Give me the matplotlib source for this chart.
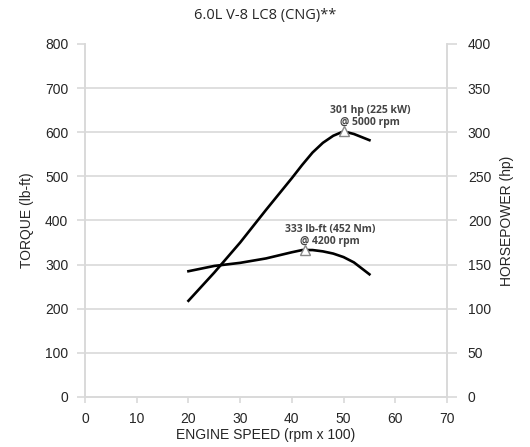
import matplotlib.pyplot as plt

# engine speed (rpm x 100)
rpm_tq = [20, 25, 30, 35, 40, 42, 44, 46, 48, 50, 52, 54, 55]
torque = [285, 297, 304, 314, 328, 333, 333, 330, 325, 317, 305, 287, 278]

rpm_hp = [20, 25, 30, 35, 40, 42, 44, 46, 48, 50, 52, 55]
hp = [109, 141, 175, 212, 248, 263, 277, 288, 296, 301, 298, 291]

peak_hp = (50, 301)
peak_tq = (42.5, 334)
title = '6.0L V-8 LC8 (CNG)**'
hp_note = '301 hp (225 kW)\n@ 5000 rpm'
tq_note = '333 lb-ft (452 Nm)\n@ 4200 rpm'

grid_c = '#d9d9d9'
txt_c = '#262626'

fig = plt.figure(figsize=(5.3, 4.47), dpi=100)
ax = fig.add_axes([0.1604, 0.1119, 0.6830, 0.7897])
ax2 = ax.twinx()

ax.set_xlim(0, 70)
ax.set_ylim(0, 800)
ax2.set_ylim(0, 400)
ax.set_xticks(range(0, 71, 10))
ax.set_yticks(range(0, 801, 100))
ax2.set_yticks(range(0, 401, 50))

for y in range(100, 800, 100):
    ax.axhline(y, color=grid_c, lw=1.2, zorder=0)

for a in (ax, ax2):
    a.spines['top'].set_visible(False)
    for s in ('left', 'right', 'bottom'):
        a.spines[s].set_color(grid_c)
        a.spines[s].set_linewidth(1.2)
    a.tick_params(colors=grid_c, labelcolor=txt_c, labelsize=10, width=1.2)
ax.tick_params(axis='y', length=6, pad=6)
ax.tick_params(axis='x', length=4, pad=7)
ax2.tick_params(axis='y', length=7, pad=8)

for lab in ax.get_xticklabels() + ax.get_yticklabels() + ax2.get_yticklabels():
    lab.set_family('Liberation Sans')

ax.plot(rpm_tq, torque, color='black', lw=1.9, zorder=3)
ax2.plot(rpm_hp, hp, color='black', lw=1.9, zorder=3)

ax.plot(*peak_tq, marker='^', ms=7, mfc='white', mec='#888888', mew=1, zorder=4)
ax2.plot(*peak_hp, marker='^', ms=7, mfc='white', mec='#888888', mew=1, zorder=4)

ax.text(47.4, 341, tq_note, ha='center', va='bottom', fontsize=7.5, fontweight='bold',
        color='#444444', family='Open Sans', linespacing=1.1)
ax2.text(55.1, 305, hp_note, ha='center', va='bottom', fontsize=7.5, fontweight='bold',
         color='#444444', family='Open Sans', linespacing=1.1)

ax.set_xlabel('ENGINE SPEED (rpm x 100)', family='Liberation Sans', fontsize=10,
              color=txt_c, labelpad=1)
ax.set_ylabel('TORQUE (lb-ft)', family='Liberation Sans', fontsize=10,
              color=txt_c, labelpad=8)
ax2.set_ylabel('HORSEPOWER (hp)', family='Liberation Sans', fontsize=10,
               color=txt_c, labelpad=6)

fig.text(0.5, 0.966, title, ha='center', va='center', fontsize=10.5,
         family='Open Sans', color=txt_c)

fig.savefig('out.png', dpi=100)
